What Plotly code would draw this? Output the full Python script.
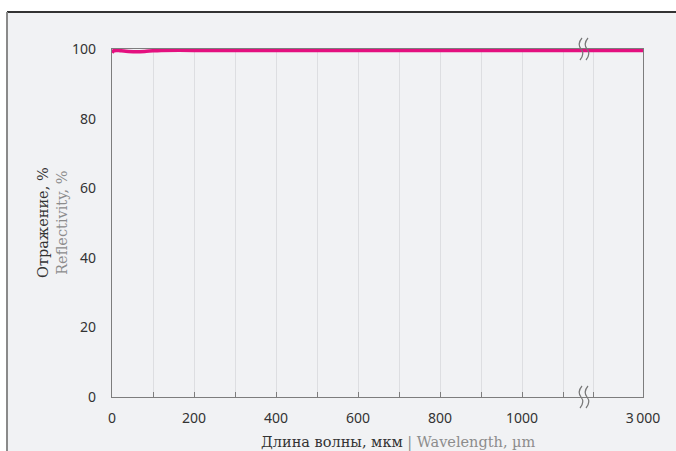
import plotly.graph_objects as go

# Reflectivity spectrum
wavelength_um = [0, 2, 5, 10, 20, 40, 60, 80, 100, 120, 200, 500, 1000, 2000, 3000]
reflectivity_pct = [98.9, 99.3, 99.5, 99.6, 99.5, 99.3, 99.2, 99.3, 99.5, 99.6, 99.6, 99.6, 99.6, 99.6, 99.6]

left_ticks = [0, 200, 400, 600, 800, 1000]
right_ticks = [2900, 3000]
right_tick_text = ["", "3\u2009000"]
y_ticks = [0, 20, 40, 60, 80, 100]

W, H = 676, 451
ML, MR, MT, MB = 112, 33, 49, 54
PW, PH = W - ML - MR, H - MT - MB

BG = "#f1f2f4"
AXIS = "#7d7d7d"
GRID = "#dddee1"
MAGENTA = "#e4107f"
TXT = "#333333"
SUB = "#8c8c8c"

split = (584 - ML) / PW  # break position in paper fraction


def px_x(px):
    return (px - ML) / PW


def px_y(py):
    return (MT + PH - py) / PH


fig = go.Figure()
for xa, ya in (("x", "y"), ("x2", "y2")):
    fig.add_trace(go.Scatter(
        x=wavelength_um, y=reflectivity_pct, xaxis=xa, yaxis=ya,
        mode="lines", line=dict(color=MAGENTA, width=3.5, shape="spline", smoothing=0.6),
        showlegend=False, hoverinfo="skip", cliponaxis=True,
    ))

tickfont = dict(family="Noto Sans", size=14, color=TXT)
common_x = dict(
    showline=True, linecolor=AXIS, linewidth=1.2, mirror=True,
    ticks="inside", ticklen=5, tickcolor=AXIS, tickwidth=1,
    showgrid=True, gridcolor=GRID, gridwidth=1, zeroline=False,
    tickfont=tickfont, ticklabelstandoff=8,
)

fig.update_layout(
    width=W, height=H,
    margin=dict(l=ML, r=MR, t=MT, b=MB),
    paper_bgcolor="white", plot_bgcolor=BG,
    xaxis=dict(
        domain=[0, split], range=[0, (584 - ML) / 0.41],
        tickvals=left_ticks, ticktext=[str(v) for v in left_ticks],
        minor=dict(dtick=100, tick0=0, ticks="inside", ticklen=5, tickcolor=AXIS,
                   showgrid=True, gridcolor=GRID),
        anchor="y", **common_x,
    ),
    xaxis2=dict(
        domain=[split, 1], range=[2880, 3000],
        tickvals=right_ticks, ticktext=right_tick_text,
        anchor="y2", **common_x,
    ),
    yaxis=dict(
        domain=[0, 1], range=[0, 100], tickvals=y_ticks,
        showline=True, linecolor=AXIS, linewidth=1.2, ticks="",
        showgrid=False, zeroline=False, tickfont=tickfont,
        ticklabelstandoff=12, anchor="x",
    ),
    yaxis2=dict(
        domain=[0, 1], range=[0, 100], matches="y", side="right",
        showline=True, linecolor=AXIS, linewidth=1.2, ticks="",
        showticklabels=False, showgrid=False, zeroline=False, anchor="x2",
    ),
)

# Panel background and frame
fig.add_shape(type="rect", xref="paper", yref="paper",
              x0=px_x(7), x1=px_x(680), y0=px_y(460), y1=px_y(12),
              fillcolor=BG, line=dict(width=0), layer="below")
fig.add_shape(type="line", xref="paper", yref="paper",
              x0=px_x(7), x1=px_x(680), y0=px_y(12), y1=px_y(12),
              line=dict(color="#333333", width=2))
fig.add_shape(type="line", xref="paper", yref="paper",
              x0=px_x(7), x1=px_x(7), y0=px_y(460), y1=px_y(12),
              line=dict(color="#8a8a8a", width=2))

# Axis break marks
stroke = "M -2,11 Q -7,5 -3,0 Q 1,-5 -4,-11"
stroke2 = "M 4,11 Q -1,5 3,0 Q 7,-5 2,-11"
for yanchor in (1, 0):
    for p in (stroke, stroke2):
        fig.add_shape(type="path", path=p, xref="paper", yref="paper",
                      xsizemode="pixel", ysizemode="pixel",
                      xanchor=split, yanchor=yanchor,
                      line=dict(color="#777777", width=1.2))

# Axis titles
fig.add_annotation(
    xref="paper", yref="paper", x=px_x(52), y=0.5, textangle=-90,
    text=f"<span style='color:{TXT}'>Отражение, %</span><br>"
         f"<span style='color:{SUB}'>Reflectivity, %</span>",
    showarrow=False, xanchor="center", yanchor="middle",
    font=dict(family="DejaVu Serif", size=14.5), align="center",
)
fig.add_annotation(
    xref="paper", yref="paper", x=px_x(398), y=px_y(442),
    text=f"<span style='color:{TXT}'>Длина волны, мкм</span>"
         f"<span style='color:{SUB}'> | Wavelength, µm</span>",
    showarrow=False, xanchor="center", yanchor="middle",
    font=dict(family="DejaVu Serif", size=14.5),
)

fig.write_html("out.html")
